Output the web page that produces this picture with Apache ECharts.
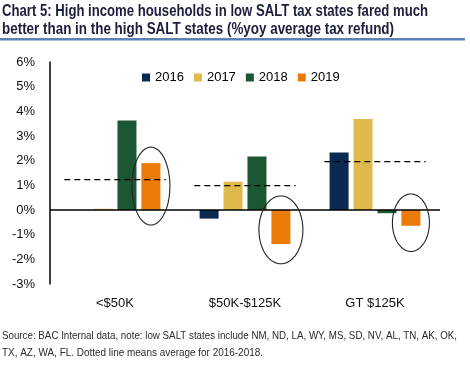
<!DOCTYPE html>
<html><head><meta charset="utf-8">
<script src="https://cdn.jsdelivr.net/npm/echarts@6/dist/echarts.min.js"></script>
<style>html,body{margin:0;padding:0;background:#fff}#c{width:470px;height:371px}</style>
</head><body><div id="c"></div>
<script>
const categories = ['<$50K', '$50K-$125K', 'GT $125K'];
const seriesNames = ['2016', '2017', '2018', '2019'];
const v2016 = [0, -0.35, 2.33];
const v2017 = [0.05, 1.15, 3.69];
const v2018 = [3.63, 2.17, -0.13];
const v2019 = [1.90, -1.38, -0.64];
const avg2016to2018 = [1.23, 0.99, 1.96];
const ellipseTop = [2.55, 0.57, 0.65];
const ellipseBottom = [-0.61, -2.18, -1.68];
const yTicks = { min: -3, max: 6, interval: 1 };

const titleLines = ['Chart 5: High income households in low SALT tax states fared much',
                    'better than in the high SALT states (%yoy average tax refund)'];
const noteLines = ['Source: BAC Internal data, note: low SALT states include NM, ND, LA, WY, MS, SD, NV, AL, TN, AK, OK,',
                   'TX, AZ, WA, FL. Dotted line means average for 2016-2018.'];

const colors = ['#0b2a52', '#e0b94b', '#1c5734', '#ea7a09'];
const barWidth = 19, barGapRatio = 0.26;
const ellipseHalfW = [19, 22, 18.5];

const ctx = document.createElement('canvas').getContext('2d');
function fitScale(text, font, width) { ctx.font = font; return width / ctx.measureText(text).width; }
const titleFont = 'bold 17px "Liberation Sans Narrow", "Liberation Sans", Arial, sans-serif';
const noteFont = '10.5px "Liberation Sans Narrow", "Liberation Sans", Arial, sans-serif';

function textEl(text, font, x, y, w, fill) {
  return { type: 'text', x: x, y: y, scaleX: fitScale(text, font, w),
    style: { text: text, font: font, fill: fill, align: 'left', verticalAlign: 'middle' } };
}

const chart = echarts.init(document.getElementById('c'), null, { renderer: 'canvas' });
const barSeries = [v2016, v2017, v2018, v2019].map((d, i) => ({
  name: seriesNames[i], type: 'bar', data: d, barWidth: barWidth,
  barGap: (barGapRatio * 100) + '%', itemStyle: { color: colors[i] }, z: 2
}));
barSeries[0].markLine = { silent: true, symbol: 'none', label: { show: false },
  lineStyle: { color: '#000', type: 'solid', width: 1.5 }, data: [{ yAxis: 0 }], z: 5 };

const option = {
  animation: false,
  grid: { left: 50, right: 30, top: 62, bottom: 87 },
  legend: { data: seriesNames, left: 137, top: 66, itemWidth: 8, itemHeight: 8, itemGap: 10,
    icon: 'rect', textStyle: { fontFamily: '"Liberation Sans", Arial', fontSize: 13, color: '#000' } },
  xAxis: { type: 'category', data: categories,
    axisLine: { show: false, onZero: false }, axisTick: { show: false },
    axisLabel: { fontFamily: '"Liberation Sans", Arial', fontSize: 13, color: '#111', margin: 13 } },
  yAxis: { type: 'value', min: yTicks.min, max: yTicks.max, interval: yTicks.interval,
    axisLine: { show: true, lineStyle: { color: '#000', width: 1.5 } }, axisTick: { show: false },
    splitLine: { show: false },
    axisLabel: { formatter: '{value}%', fontFamily: '"Liberation Sans", Arial', fontSize: 13, color: '#111', margin: 15 } },
  series: barSeries.concat([
    { type: 'custom', name: 'avg', data: avg2016to2018.map((v, i) => [i, v]), z: 6, silent: true,
      renderItem: function (params, api) {
        const p = api.coord([api.value(0), api.value(1)]);
        const bw = api.size([1, 0])[0];
        return { type: 'line', shape: { x1: p[0] - 0.39 * bw, y1: p[1], x2: p[0] + 0.39 * bw, y2: p[1] },
          style: { stroke: '#000', lineWidth: 1.2, lineDash: [6, 4] } };
      } },
    { type: 'custom', name: 'ell', data: ellipseTop.map((t, i) => [i, t, ellipseBottom[i]]), z: 7, silent: true,
      renderItem: function (params, api) {
        const i = api.value(0);
        const off = 1.5 * (barWidth * (1 + barGapRatio));
        const pt = api.coord([i, api.value(1)]);
        const pb = api.coord([i, api.value(2)]);
        const cx = pt[0] + off, cy = (pt[1] + pb[1]) / 2, ry = (pb[1] - pt[1]) / 2, rx = ellipseHalfW[i];
        const pts = [];
        for (let k = 0; k < 72; k++) { const a = k / 72 * Math.PI * 2; pts.push([cx + rx * Math.cos(a), cy + ry * Math.sin(a)]); }
        return { type: 'polygon', shape: { points: pts }, style: { fill: 'none', stroke: '#222', lineWidth: 1.1 } };
      } }
  ]),
  graphic: [
    textEl(titleLines[0], titleFont, 2, 11.5, 426, '#1b1e3c'),
    textEl(titleLines[1], titleFont, 2, 29, 392, '#1b1e3c'),
    { type: 'rect', shape: { x: 0, y: 38, width: 465, height: 2.5 }, style: { fill: '#5f80b4' } },
    textEl(noteLines[0], noteFont, 2, 336, 455, '#2a2a2a'),
    textEl(noteLines[1], noteFont, 2, 352.8, 261, '#2a2a2a')
  ]
};
chart.setOption(option);
</script></body></html>
